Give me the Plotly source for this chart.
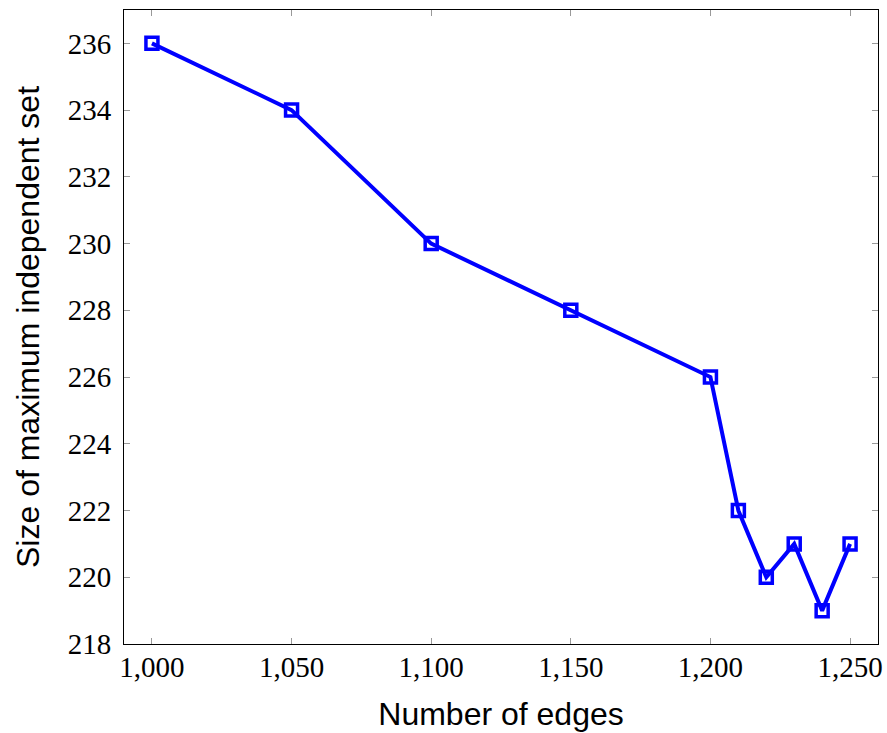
import plotly.graph_objects as go

edges = [1000, 1050, 1100, 1150, 1200, 1210, 1220, 1230, 1240, 1250]
mis_size = [236, 234, 230, 228, 226, 222, 220, 221, 219, 221]
x_ticks = [1000, 1050, 1100, 1150, 1200, 1250]
x_tick_labels = ["1,000", "1,050", "1,100", "1,150", "1,200", "1,250"]
y_ticks = [218, 220, 222, 224, 226, 228, 230, 232, 234, 236]

fig = go.Figure()
fig.add_trace(go.Scatter(
    x=edges, y=mis_size, mode="lines+markers",
    line=dict(color="#0000ff", width=4),
    marker=dict(symbol="square-open", size=12, color="#0000ff",
                line=dict(color="#0000ff", width=3.5)),
    showlegend=False,
))

axis_common = dict(
    showgrid=False, zeroline=False, showline=True, linecolor="black", linewidth=1,
    mirror="ticks", ticks="inside", ticklen=6, tickwidth=1, tickcolor="#999999",
    automargin=False,
    tickfont=dict(family="Liberation Serif, DejaVu Serif, serif", size=29, color="black"),
)

fig.update_xaxes(range=[990, 1260], tickvals=x_ticks, ticktext=x_tick_labels,
                 ticklabelstandoff=-3,
                 title=dict(text="Number of edges", standoff=20,
                            font=dict(family="Liberation Sans, Arial, sans-serif", size=32, color="black")),
                 **axis_common)
fig.update_yaxes(range=[218, 237], tickvals=y_ticks, ticklabelstandoff=6,
                 title=dict(text="Size of maximum independent set", standoff=18,
                            font=dict(family="Liberation Sans, Arial, sans-serif", size=32, color="black")),
                 **axis_common)

fig.update_layout(
    width=887, height=733,
    margin=dict(l=124, r=9, t=10, b=89),
    plot_bgcolor="white", paper_bgcolor="white",
)

fig.write_html("out.html")
